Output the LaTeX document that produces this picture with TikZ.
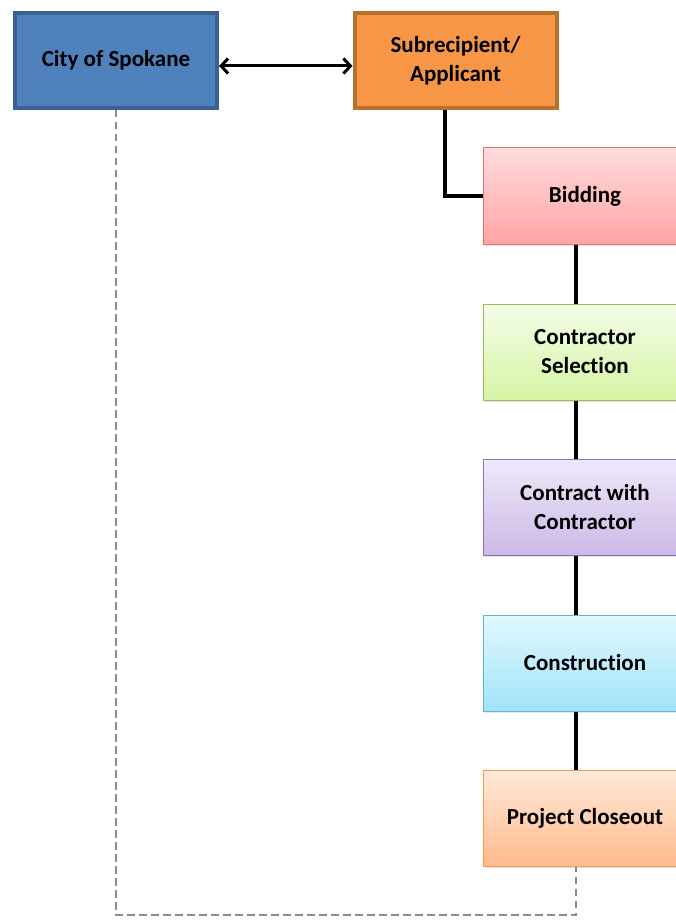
\documentclass[tikz,border=0pt]{standalone}
\usepackage{fontspec}
\setmainfont[Ligatures=NoCommon]{Carlito}
\usetikzlibrary{arrows.meta,shadows}
\definecolor{cBlue}{HTML}{4F81BD}
\definecolor{cBlueDk}{HTML}{3B6191}
\definecolor{cOrange}{HTML}{F79646}
\definecolor{cOrangeDk}{HTML}{B8702F}
\definecolor{cGray}{HTML}{8C8C8C}
\definecolor{bidTop}{HTML}{FFDCDC}\definecolor{bidBot}{HTML}{FFA4A4}\definecolor{bidLine}{HTML}{DF7272}
\definecolor{selTop}{HTML}{F4FDE8}\definecolor{selBot}{HTML}{D6F4A4}\definecolor{selLine}{HTML}{9BBB59}
\definecolor{cwcTop}{HTML}{EFE8F8}\definecolor{cwcBot}{HTML}{CCB8E7}\definecolor{cwcLine}{HTML}{8C72B8}
\definecolor{conTop}{HTML}{E2F8FE}\definecolor{conBot}{HTML}{A0E4F8}\definecolor{conLine}{HTML}{5FB8D0}
\definecolor{cloTop}{HTML}{FFE9DA}\definecolor{cloBot}{HTML}{FFBA8C}\definecolor{cloLine}{HTML}{F79646}
\tikzset{
    topbox/.style={rectangle, line width=4pt, minimum width=202pt, minimum height=95pt,
        align=center, font=\fontsize{23}{29}\selectfont\bfseries},
    stage/.style={rectangle, line width=1pt, minimum width=203pt, minimum height=96pt,
        align=center, font=\fontsize{23}{29}\selectfont\bfseries,
        drop shadow={opacity=0.2, shadow xshift=1.5pt, shadow yshift=-1.5pt}},
    link/.style={line width=4pt, black},
    back/.style={line width=2pt, cGray, dash pattern=on 7.5pt off 4.5pt}
}
\begin{document}
\begin{tikzpicture}[x=1pt,y=-1pt]
\useasboundingbox (0,0) rectangle (676,920);
\node[topbox,draw=cBlueDk,fill=cBlue] (city) at (116,60.5) {City of Spokane};
\node[topbox,draw=cOrangeDk,fill=cOrange] (sub) at (455.5,60.5) {Subrecipient/\\Applicant};
\node[stage,draw=bidLine,top color=bidTop,bottom color=bidBot] (bid) at (585,196) {Bidding};
\node[stage,draw=selLine,top color=selTop,bottom color=selBot] (sel) at (585,352) {Contractor\\Selection};
\node[stage,draw=cwcLine,top color=cwcTop,bottom color=cwcBot] (cwc) at (585,507.5) {Contract with\\Contractor};
\node[stage,draw=conLine,top color=conTop,bottom color=conBot] (con) at (585,663) {Construction};
\node[stage,draw=cloLine,top color=cloTop,bottom color=cloBot] (clo) at (585,818.5) {Project Closeout};
\coordinate (spine) at (576,0);
\coordinate (corner) at (116,915);
\draw[line width=3pt,{Straight Barb[length=7pt,width=15pt]}-{Straight Barb[length=7pt,width=15pt]}]
    ([yshift=-5.5pt]city.east) -- ([yshift=-5.5pt]sub.west);
\draw[link] (sub.south -| 445,0) |- (bid.west);
\draw[link] (bid.south -| spine) -- (sel.north -| spine);
\draw[link] (sel.south -| spine) -- (cwc.north -| spine);
\draw[link] (cwc.south -| spine) -- (con.north -| spine);
\draw[link] (con.south -| spine) -- (clo.north -| spine);
\draw[back] (city.south) -- (corner) -| (clo.south -| spine);
\end{tikzpicture}
\end{document}
